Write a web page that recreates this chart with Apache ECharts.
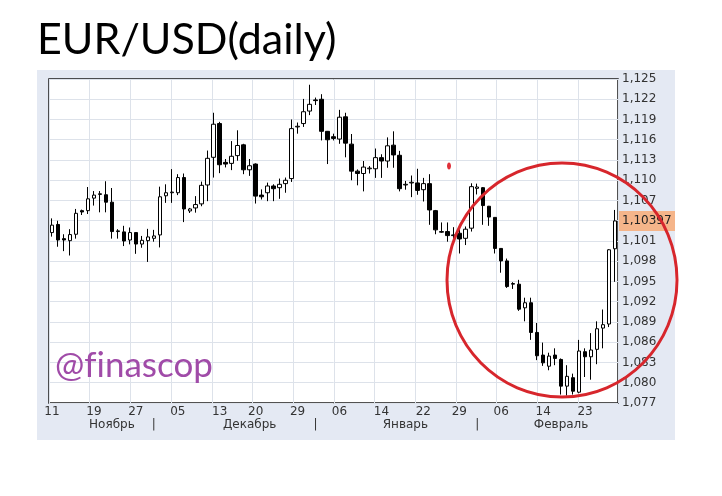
<!DOCTYPE html>
<html><head><meta charset="utf-8">
<script src="https://cdn.jsdelivr.net/npm/echarts@6/dist/echarts.min.js"></script>
<style>html,body{margin:0;padding:0;background:#fff}#c{width:722px;height:496px}</style>
</head><body><div id="c"></div>
<script>
// Trading days (Sun–Fri), 11 Nov .. 28 Feb
const days = ['11','12','13','14','15','17','18','19','20','21','22','24','25','26','27','28','29',
 '01','02','03','04','05','06','08','09','10','11','12','13','15','16','17','18','19','20','22','23','24','25','26','27','29','30','31',
 '01','02','03','05','06','07','08','09','10','12','13','14','15','16','17','19','20','21','22','23','24','26','27','28','29','30','31',
 '02','03','04','05','06','07','09','10','11','12','13','14','16','17','18','19','20','21','23','24','25','26','27','28'];
const dayTickIdx = [0,7,14,21,28,34,41,48,55,62,68,75,82,89];
const monthNames = ['Ноябрь','Декабрь','Январь','Февраль'];
const monthLabelIdx = [10,33,59,85];
const monthSepIdx = [17,44,71];

const openVals = [1.10225,1.10345,1.10135,1.10105,1.1020,1.1055,1.1055,1.10735,1.1079,1.10785,
1.10675,1.1024,1.10235,1.10115,1.10225,1.10055,1.10105,1.1014,1.1019,1.1077,
1.10815,1.10815,1.1104,1.10545,1.1059,1.1065,1.1093,1.1134,1.1184,1.11265,
1.1125,1.11365,1.11525,1.11155,1.1124,1.1078,1.10815,1.10915,1.1089,1.1095,
1.11025,1.1179,1.1184,1.12025,1.1219,1.1220,1.11725,1.11645,1.1161,1.1194,
1.11535,1.11135,1.1110,1.1117,1.1117,1.11335,1.11285,1.1152,1.1137,1.1093,
1.1096,1.1096,1.1086,1.1095,1.1055,1.1023,1.1024,1.1018,1.10215,1.1014,
1.1029,1.1088,1.1089,1.10615,1.1045,1.0999,1.09805,1.0946,1.0946,1.0911,
1.09185,1.08745,1.0841,1.08245,1.0841,1.08345,1.0795,1.08075,1.0786,1.0846,
1.08385,1.08495,1.0881,1.0887,1.09985];
const closeVals = [1.10335,1.10115,1.10115,1.10195,1.1051,1.1053,1.10725,1.1078,1.1080,1.10675,
1.1024,1.1025,1.1010,1.10225,1.10055,1.1011,1.1016,1.10175,1.10755,1.10815,
1.10825,1.1104,1.10575,1.10575,1.1064,1.10925,1.11325,1.1183,1.1123,1.1124,
1.11355,1.11515,1.11155,1.11215,1.10765,1.10755,1.10915,1.10875,1.1094,1.1100,
1.11765,1.1180,1.12015,1.12125,1.1218,1.11725,1.1160,1.1162,1.11934,1.1155,
1.11135,1.1110,1.11195,1.1118,1.11335,1.11285,1.1151,1.11375,1.10875,1.1094,
1.1097,1.1085,1.1095,1.1056,1.10265,1.1024,1.1018,1.1019,1.1013,1.10275,
1.10905,1.1090,1.10625,1.10455,1.0999,1.09805,1.09425,1.0947,1.0909,1.09185,
1.08745,1.0840,1.08295,1.08395,1.0836,1.0795,1.08095,1.07875,1.0847,1.08385,
1.08485,1.0880,1.0886,1.0997,1.10397];
const lowVals = [1.10165,1.10015,1.0995,1.09885,1.10135,1.10485,1.1050,1.10625,1.10525,1.10525,
1.10135,1.10135,1.10025,1.1005,1.0991,1.1000,1.0979,1.1009,1.10005,1.10665,
1.10665,1.1078,1.1038,1.10515,1.1052,1.10615,1.1069,1.1104,1.11105,1.1119,
1.1115,1.1129,1.1109,1.11065,1.10655,1.10715,1.1069,1.1069,1.10725,1.10815,
1.10975,1.1169,1.1179,1.11965,1.12115,1.1159,1.1124,1.1159,1.1154,1.1134,
1.1100,1.10925,1.10835,1.1110,1.11035,1.11035,1.11185,1.11185,1.10835,1.1086,
1.1075,1.10785,1.10685,1.1034,1.1020,1.1022,1.1009,1.10065,1.09915,1.1004,
1.1024,1.1079,1.1034,1.10325,1.09915,1.0963,1.09405,1.0939,1.09065,1.0891,
1.08635,1.08335,1.0825,1.08185,1.0826,1.07825,1.0781,1.07825,1.07845,1.08085,
1.08045,1.08275,1.0851,1.08825,1.09495];
const highVals = [1.10435,1.1040,1.1020,1.10275,1.10575,1.10565,1.1090,1.1084,1.1084,1.10985,
1.10885,1.10275,1.10325,1.1030,1.10225,1.10175,1.1028,1.10265,1.10905,1.1094,
1.11165,1.1109,1.1110,1.1059,1.10765,1.1098,1.1144,1.1200,1.11865,1.11315,
1.1158,1.1174,1.1154,1.11315,1.1125,1.10865,1.10965,1.1094,1.11025,1.1104,
1.1190,1.11855,1.12205,1.12415,1.12225,1.12275,1.1173,1.1169,1.12043,1.1200,
1.11685,1.1116,1.11285,1.1121,1.1147,1.11385,1.11635,1.11725,1.11435,1.1099,
1.1107,1.1117,1.11035,1.1109,1.1056,1.10375,1.10375,1.10305,1.10305,1.10315,
1.10955,1.1095,1.1090,1.1062,1.1045,1.0999,1.0984,1.0949,1.09525,1.0926,
1.0926,1.08885,1.08595,1.08445,1.0851,1.0836,1.0826,1.08135,1.08635,1.0851,
1.08735,1.0891,1.09085,1.0998,1.1056];

const candleData = openVals.map((o,i)=>[o, closeVals[i], lowVals[i], highVals[i]]);
const lastClose = closeVals[closeVals.length-1];
const fmt = v => v.toFixed(3).replace('.', ',');
const labelFont = 'DejaVu Sans';
const txtColor = '#333';

const baseGraphics = [
  {id:'panel', type:'rect', z:-100, shape:{x:37,y:70,width:638,height:370}, style:{fill:'#e4e9f3'}},
  {id:'title', type:'text', z:10, left:37, top:19, style:{text:'EUR/USD(daily)', font:'43px Lato', fill:'#000'}},
  {id:'brand', type:'text', z:10, left:55, top:348, style:{text:'@f\u200Cinascop', font:'35px Lato', fill:'#a04ba8'}},
  {id:'circle', type:'ellipse', z:100, shape:{cx:562,cy:280,rx:115,ry:117}, style:{fill:'none', stroke:'#d7262c', lineWidth:3}},
  {id:'dot', type:'ellipse', z:100, shape:{cx:449,cy:166,rx:2,ry:3.5}, style:{fill:'#e0303a'}}
];

const chart = echarts.init(document.getElementById('c'), null, {renderer:'canvas'});
chart.setOption({
  animation:false,
  backgroundColor:'#ffffff',
  graphic: baseGraphics,
  grid:{left:49, right:104, top:79, bottom:93, show:true, backgroundColor:'#ffffff', borderColor:'#1a1a1a', borderWidth:1.5},
  xAxis:[
    {type:'category', data:days, boundaryGap:true,
     axisLine:{show:false}, axisTick:{show:false}, splitLine:{show:false},
     axisLabel:{interval:(i)=>dayTickIdx.includes(i), margin:3, fontFamily:labelFont, fontSize:12, color:txtColor}},
    {type:'category', data:days, boundaryGap:true, position:'bottom', offset:14,
     axisLine:{show:false}, axisTick:{show:false}, splitLine:{show:false},
     axisLabel:{interval:(i)=>monthLabelIdx.includes(i)||monthSepIdx.includes(i), margin:2, fontFamily:labelFont, fontSize:12, color:txtColor,
       formatter:(v,i)=>{const k=monthLabelIdx.indexOf(i); if(k>=0) return monthNames[k]; return monthSepIdx.includes(i)?'|':'';}}},
    {type:'value', min:0, max:569, interval:40.7, show:true,
     axisLine:{show:false}, axisTick:{show:false}, axisLabel:{show:false},
     splitLine:{show:true, lineStyle:{color:'#dde2ea', width:1}}}
  ],
  yAxis:{type:'value', position:'right', min:1.077, max:1.125, interval:0.003, scale:true,
    axisLine:{show:false}, axisTick:{show:false},
    axisLabel:{margin:4, fontFamily:labelFont, fontSize:12, color:txtColor, formatter:fmt},
    splitLine:{show:true, lineStyle:{color:'#dde2ea', width:1}}},
  series:[{
    type:'candlestick', xAxisIndex:0, data:candleData, barWidth:4, z:5,
    itemStyle:{color:'#ffffff', color0:'#000000', borderColor:'#000000', borderColor0:'#000000', borderWidth:1}
  }]
});

// last-price tag placed through the y scale
const yPix = chart.convertToPixel({yAxisIndex:0}, lastClose);
chart.setOption({graphic:[
  {id:'tagbox', type:'rect', z:50, shape:{x:619, y:yPix-10, width:56, height:20}, style:{fill:'#f5b58a'}},
  {id:'tagtxt', type:'text', z:51, x:622, y:yPix, style:{text:lastClose.toFixed(5).replace('.',','), font:'12px "DejaVu Sans"', fill:'#222', textVerticalAlign:'middle'}}
]});
</script></body></html>
